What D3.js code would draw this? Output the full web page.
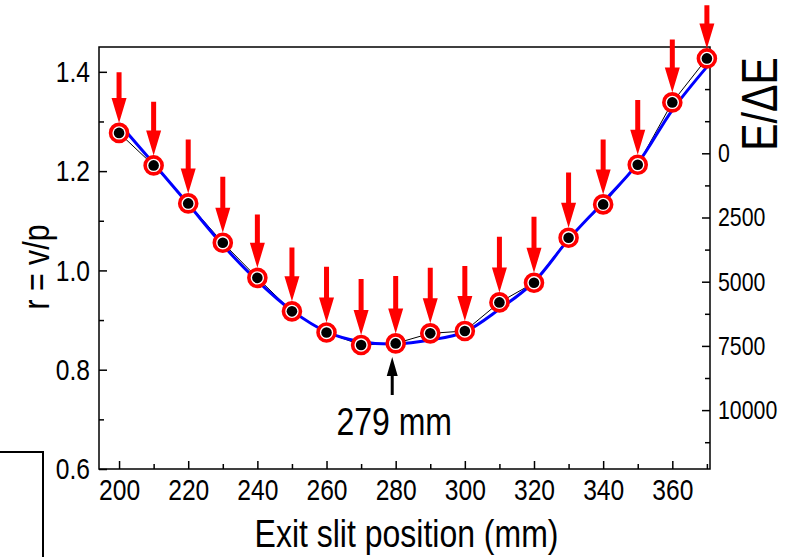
<!DOCTYPE html>
<html>
<head>
<meta charset="utf-8">
<script src="https://cdn.jsdelivr.net/npm/d3@7"></script>
<style>
  body { margin: 0; background: #fff; }
  text { font-family: 'Liberation Sans', Arial, sans-serif; fill: #000; }
</style>
</head>
<body>
<div id="chart"></div>
<script>
// exit slit position (mm)
var positions = [200, 210, 220, 230, 240, 250, 260, 270, 280, 290, 300, 310, 320, 330, 340, 350, 360, 370];
// measured r = v/p
var rMeasured = [1.277, 1.2115, 1.135, 1.0557, 0.985, 0.9175, 0.875, 0.8497, 0.853, 0.8732, 0.8779, 0.9356, 0.9751, 1.0657, 1.133, 1.2127, 1.3384, 1.427];
// fitted curve (blue), read at the same positions
var rFit = [1.296, 1.2155, 1.1336, 1.051, 0.979, 0.919, 0.8764, 0.8563, 0.8517, 0.8597, 0.8764, 0.922, 0.977, 1.0625, 1.1375, 1.2155, 1.3229, 1.41];
// tail of each red arrow (in r units)
var arrowTail = [1.399, 1.3396, 1.2639, 1.1886, 1.1128, 1.0464, 1.0073, 0.9826, 0.9886, 1.0053, 1.0087, 1.0677, 1.108, 1.1974, 1.2639, 1.343, 1.4652, 1.5343];

var xTicks = [200, 220, 240, 260, 280, 300, 320, 340, 360];
var xMinor = [210, 230, 250, 270, 290, 310, 330, 350, 370];
var yTicks = [0.6, 0.8, 1.0, 1.2, 1.4];
var yMinor = [0.7, 0.9, 1.1, 1.3];
var rTicks = [0, 2500, 5000, 7500, 10000];
var rMinor = [-2500, -1250, 1250, 3750, 6250, 8750, 11250];

var optimum = 279;
var optimumLabel = '279 mm';

var width = 785, height = 557;
var plot = {left: 99, right: 710, top: 47, bottom: 469};

var svg = d3.select('#chart').append('svg')
    .attr('width', width)
    .attr('height', height);

var x = d3.scaleLinear().domain([194.2, 370.9]).range([plot.left, plot.right]);
var y = d3.scaleLinear().domain([0.6, 1.45]).range([plot.bottom, plot.top]);
var yR = d3.scaleLinear().domain([-4139, 12293]).range([plot.top, plot.bottom]);

var data = positions.map(function(p, i) {
    return {x: p, r: rMeasured[i], fit: rFit[i], tail: arrowTail[i]};
});

// frame
svg.append('rect')
    .attr('x', plot.left).attr('y', plot.top)
    .attr('width', plot.right - plot.left).attr('height', plot.bottom - plot.top)
    .style('fill', 'none').style('stroke', '#000').style('stroke-width', 1.5);

// bottom axis
var xAxis = svg.append('g').attr('transform', 'translate(0,' + plot.bottom + ')')
    .call(d3.axisBottom(x).tickValues(xTicks).tickSize(-8).tickPadding(10));
svg.append('g').attr('transform', 'translate(0,' + plot.bottom + ')')
    .call(d3.axisBottom(x).tickValues(xMinor).tickSize(-5).tickFormat(''));

// left axis
var yAxis = svg.append('g').attr('transform', 'translate(' + plot.left + ',0)')
    .call(d3.axisLeft(y).tickValues(yTicks).tickSize(-8).tickPadding(9).tickFormat(d3.format('.1f')));
svg.append('g').attr('transform', 'translate(' + plot.left + ',0)')
    .call(d3.axisLeft(y).tickValues(yMinor).tickSize(-5).tickFormat(''));

// right axis E/dE
var rAxis = svg.append('g').attr('transform', 'translate(' + plot.right + ',0)')
    .call(d3.axisRight(yR).tickValues(rTicks).tickSize(-8).tickPadding(8).tickFormat(d3.format('d')));
svg.append('g').attr('transform', 'translate(' + plot.right + ',0)')
    .call(d3.axisRight(yR).tickValues(rMinor).tickSize(-5).tickFormat(''));

svg.selectAll('.domain').remove();
svg.selectAll('.tick line').style('stroke', '#000').style('stroke-width', 1.5);
xAxis.selectAll('text').style('font-size', '30px');
yAxis.selectAll('text').style('font-size', '30px');
rAxis.selectAll('text').style('font-size', '26px');

// thin black line through measured points
svg.append('path')
    .datum(data)
    .attr('d', d3.line().x(function(d) { return x(d.x); }).y(function(d) { return y(d.r); }))
    .style('fill', 'none').style('stroke', '#000').style('stroke-width', 1);

// blue fit
svg.append('path')
    .datum(data)
    .attr('d', d3.line().curve(d3.curveCatmullRom).x(function(d) { return x(d.x); }).y(function(d) { return y(d.fit); }))
    .style('fill', 'none').style('stroke', '#0000ff').style('stroke-width', 3);

// markers
svg.selectAll('.ring').data(data).enter().append('circle')
    .attr('class', 'ring')
    .attr('cx', function(d) { return x(d.x); })
    .attr('cy', function(d) { return y(d.r); })
    .attr('r', 8.5)
    .style('fill', '#fff').style('stroke', '#ff0000').style('stroke-width', 3.6);

svg.selectAll('.dot').data(data).enter().append('circle')
    .attr('class', 'dot')
    .attr('cx', function(d) { return x(d.x); })
    .attr('cy', function(d) { return y(d.r); })
    .attr('r', 5.3)
    .style('fill', '#000');

// red arrows pointing down at each point
function arrowDown(cx, tailY, tipY, shaft, headW, headL) {
    var hb = tipY - headL;
    return 'M' + (cx - shaft / 2) + ',' + tailY +
        'L' + (cx + shaft / 2) + ',' + tailY +
        'L' + (cx + shaft / 2) + ',' + hb +
        'L' + (cx + headW / 2) + ',' + hb +
        'L' + cx + ',' + tipY +
        'L' + (cx - headW / 2) + ',' + hb +
        'L' + (cx - shaft / 2) + ',' + hb + 'Z';
}

svg.selectAll('.arrow').data(data).enter().append('path')
    .attr('class', 'arrow')
    .attr('d', function(d) {
        return arrowDown(x(d.x), y(d.tail), y(d.r) - 10, 5, 15, 25);
    })
    .style('fill', '#ff0000');

// optimum annotation
var ox = x(optimum);
var tipY = 357;
svg.append('path')
    .attr('d', 'M' + (ox - 1.5) + ',395L' + (ox + 1.5) + ',395L' + (ox + 1.5) + ',' + (tipY + 19) +
        'L' + (ox + 5.5) + ',' + (tipY + 19) + 'L' + ox + ',' + tipY + 'L' + (ox - 5.5) + ',' + (tipY + 19) +
        'L' + (ox - 1.5) + ',' + (tipY + 19) + 'Z')
    .style('fill', '#000');

svg.append('text')
    .attr('x', ox + 2).attr('y', 435)
    .style('text-anchor', 'middle').style('font-size', '39px')
    .text(optimumLabel);

// axis titles
svg.append('text')
    .attr('x', (plot.left + plot.right) / 2 + 2).attr('y', 547)
    .style('text-anchor', 'middle').style('font-size', '39px')
    .text('Exit slit position (mm)');

svg.append('text')
    .attr('transform', 'translate(49,' + 267 + ') rotate(-90)')
    .style('text-anchor', 'middle').style('font-size', '37px')
    .text('r = v/p');

svg.append('text')
    .attr('transform', 'translate(777,104) rotate(-90)')
    .style('text-anchor', 'middle').style('font-size', '50px')
    .text('E/ΔE');

// box fragment at lower left
svg.append('path')
    .attr('d', 'M0,452L43,452L43,' + height)
    .style('fill', 'none').style('stroke', '#000').style('stroke-width', 2);

// the original uses a narrow face; squeeze the regular one to match
svg.selectAll('text').each(function() {
    var len = this.getComputedTextLength();
    if (len > 0) {
        d3.select(this).attr('textLength', len * 0.82).attr('lengthAdjust', 'spacingAndGlyphs');
    }
});
</script>
</body>
</html>
